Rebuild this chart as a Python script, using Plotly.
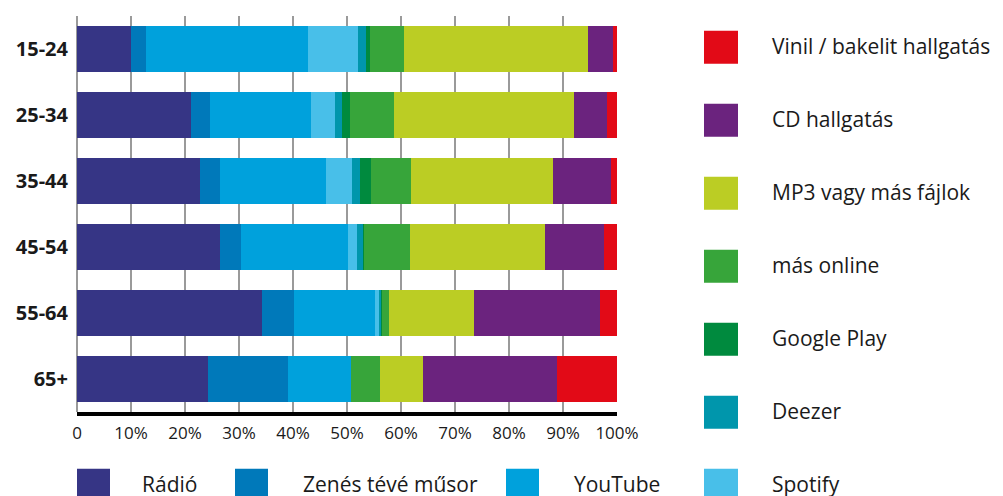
import plotly.graph_objects as go

categories = ["15-24", "25-34", "35-44", "45-54", "55-64", "65+"]

series_names = ["Rádió", "Zenés tévé műsor", "YouTube", "Spotify", "Deezer",
                "Google Play", "más online", "MP3 vagy más fájlok", "CD hallgatás",
                "Vinil / bakelit hallgatás"]

radio = [10.0, 21.2, 22.7, 26.4, 34.3, 24.3]
zenes_teve = [2.7, 3.5, 3.8, 4.0, 5.8, 14.7]
youtube = [30.0, 18.6, 19.7, 19.7, 15.1, 11.8]
spotify = [9.3, 4.5, 4.7, 1.8, 0.8, 0.0]
deezer = [1.5, 1.3, 1.5, 1.1, 0.3, 0.0]
google_play = [0.7, 1.5, 2.1, 0.2, 0.2, 0.0]
mas_online = [6.4, 8.1, 7.3, 8.5, 1.2, 5.3]
mp3 = [34.0, 33.4, 26.4, 25.0, 15.8, 7.9]
cd = [4.7, 6.1, 10.6, 10.9, 23.3, 24.9]
vinil = [0.7, 1.8, 1.2, 2.4, 3.2, 11.1]

series_values = [radio, zenes_teve, youtube, spotify, deezer, google_play,
                 mas_online, mp3, cd, vinil]

colors = ["#363585", "#0079BA", "#00A1DC", "#48BFE9", "#0096AC",
          "#008A3E", "#37A53A", "#BBCD24", "#6B237E", "#E20A17"]

tick_vals = [0, 10, 20, 30, 40, 50, 60, 70, 80, 90, 100]
tick_text = ["0", "10%", "20%", "30%", "40%", "50%", "60%", "70%", "80%", "90%", "100%"]

right_legend = ["Vinil / bakelit hallgatás", "CD hallgatás", "MP3 vagy más fájlok",
                "más online", "Google Play", "Deezer", "Spotify"]
bottom_legend = ["Rádió", "Zenés tévé műsor", "YouTube"]

W, H = 1003, 496
ML, MR, MT, MB = 77, 386, 16, 84
PW = W - ML - MR
PH = H - MT - MB


def px2x(px):
    return (px - ML) / PW


def py2y(py):
    return (H - MB - py) / PH


FONT = "Open Sans"
TXT = "#1a1a1a"

fig = go.Figure()
for name, vals, col in zip(series_names, series_values, colors):
    fig.add_trace(go.Bar(
        y=categories, x=vals, name=name, orientation="h",
        marker=dict(color=col, line=dict(width=0)),
        showlegend=False,
    ))

shapes = []
annotations = []
color_of = dict(zip(series_names, colors))

# right legend
for k, name in enumerate(right_legend):
    cy = 47.3 + 73.0 * k
    shapes.append(dict(type="rect", xref="paper", yref="paper",
                       x0=px2x(704), x1=px2x(738), y0=py2y(cy - 16.5), y1=py2y(cy + 16.5),
                       fillcolor=color_of[name], line=dict(width=0)))
    annotations.append(dict(xref="paper", yref="paper", x=px2x(770), y=py2y(cy - 1),
                            text=name, showarrow=False, xanchor="left", yanchor="middle",
                            font=dict(family=FONT, size=21, color=TXT)))

# bottom legend
bx_sw = [77, 235, 506]
bx_tx = [140, 301, 572]
for name, sx, tx in zip(bottom_legend, bx_sw, bx_tx):
    cy = 485.3
    shapes.append(dict(type="rect", xref="paper", yref="paper",
                       x0=px2x(sx), x1=px2x(sx + 33), y0=py2y(cy - 16.5), y1=py2y(cy + 16.5),
                       fillcolor=color_of[name], line=dict(width=0)))
    annotations.append(dict(xref="paper", yref="paper", x=px2x(tx), y=py2y(cy - 1),
                            text=name, showarrow=False, xanchor="left", yanchor="middle",
                            font=dict(family=FONT, size=21, color=TXT)))

fig.update_layout(
    width=W, height=H,
    margin=dict(l=ML, r=MR, t=MT, b=MB, pad=0),
    paper_bgcolor="white", plot_bgcolor="white",
    barmode="stack", bargap=0.3,
    shapes=shapes, annotations=annotations,
    xaxis=dict(range=[0, 100], tickvals=tick_vals, ticktext=tick_text,
               showgrid=True, gridcolor="#9a9a9a", gridwidth=1.5,
               zeroline=True, zerolinecolor="#9a9a9a", zerolinewidth=1.5,
               showline=True, linecolor="black", linewidth=3.5,
               ticks="", ticklabelstandoff=3,
               tickfont=dict(family=FONT, size=17, color=TXT), fixedrange=True),
    yaxis=dict(categoryorder="array", categoryarray=categories,
               autorange="reversed", showgrid=False, zeroline=False, showline=False,
               ticks="", ticklabelstandoff=8,
               tickfont=dict(family=FONT, size=20, color=TXT, weight="bold"),
               fixedrange=True),
)

fig.write_html("out.html", config={"displayModeBar": False},
               post_script="document.body.style.margin='0';document.body.style.overflow='hidden';")
